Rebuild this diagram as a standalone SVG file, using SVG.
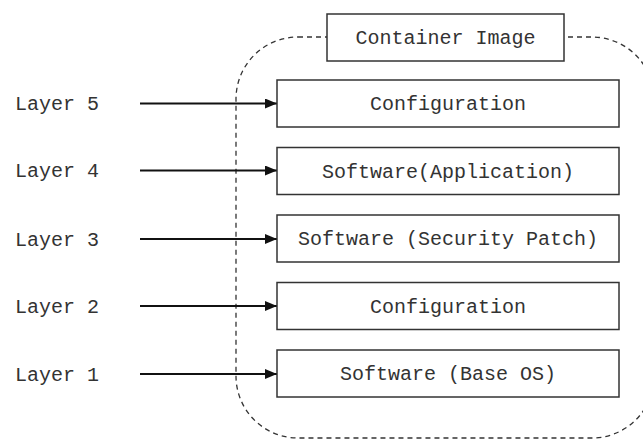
<svg xmlns="http://www.w3.org/2000/svg" width="643" height="441" viewBox="0 0 643 441">
<defs>
<style>
.box{fill:#fff;stroke:#333;stroke-width:1.5}
.t{font-family:"Liberation Mono","Courier New",monospace;font-size:20px;fill:#333}
.c{text-anchor:middle}
.arr{stroke:#111;stroke-width:2;fill:none}
.dash{fill:none;stroke:#333;stroke-width:1.3;stroke-dasharray:5 4}
</style>
<marker id="ah" markerWidth="12" markerHeight="10" refX="12" refY="5" orient="auto" markerUnits="userSpaceOnUse">
<path d="M0,0 L12,5 L0,10 Z" fill="#111"/>
</marker>
</defs>
<rect x="0" y="0" width="643" height="441" fill="#fff"/>
<g id="container-outline">
<rect class="dash" x="236" y="37" width="418" height="401" rx="62" ry="62"/>
</g>
<g id="connectors">
<line class="arr" x1="140" y1="103.5" x2="277" y2="103.5" marker-end="url(#ah)"/>
<line class="arr" x1="140" y1="170.5" x2="277" y2="170.5" marker-end="url(#ah)"/>
<line class="arr" x1="140" y1="239" x2="277" y2="239" marker-end="url(#ah)"/>
<line class="arr" x1="140" y1="306" x2="277" y2="306" marker-end="url(#ah)"/>
<line class="arr" x1="140" y1="374" x2="277" y2="374" marker-end="url(#ah)"/>
</g>
<g id="container-image">
<rect class="box" x="327" y="14" width="237" height="47"/>
<text class="t c" x="445.5" y="44">Container Image</text>
</g>
<g id="layer5-label"><text class="t" x="15" y="110">Layer 5</text></g>
<g id="layer4-label"><text class="t" x="15" y="177">Layer 4</text></g>
<g id="layer3-label"><text class="t" x="15" y="245.5">Layer 3</text></g>
<g id="layer2-label"><text class="t" x="15" y="312.5">Layer 2</text></g>
<g id="layer1-label"><text class="t" x="15" y="380.5">Layer 1</text></g>
<g id="layer5">
<rect class="box" x="277" y="80" width="342" height="47"/>
<text class="t c" x="448" y="110">Configuration</text>
</g>
<g id="layer4">
<rect class="box" x="277" y="147.5" width="342" height="47"/>
<text class="t c" x="448" y="177.5">Software(Application)</text>
</g>
<g id="layer3">
<rect class="box" x="277" y="215" width="342" height="47"/>
<text class="t c" x="448" y="245">Software (Security Patch)</text>
</g>
<g id="layer2">
<rect class="box" x="277" y="282.5" width="342" height="47"/>
<text class="t c" x="448" y="312.5">Configuration</text>
</g>
<g id="layer1">
<rect class="box" x="277" y="350" width="342" height="47"/>
<text class="t c" x="448" y="380">Software (Base OS)</text>
</g>
</svg>
